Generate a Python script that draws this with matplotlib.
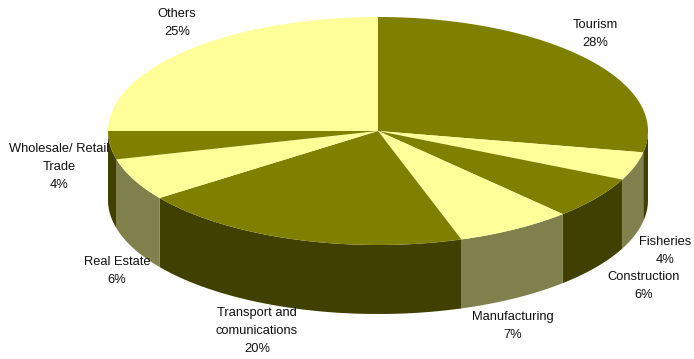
"""Tilted 3D-style pie of contribution to GDP by sector."""

import matplotlib

matplotlib.use("Agg")
import matplotlib.pyplot as plt
import numpy as np
from matplotlib.patches import Polygon

SECTORS = [
    "Tourism",
    "Fisheries",
    "Construction",
    "Manufacturing",
    "Transport and\ncomunications",
    "Real Estate",
    "Wholesale/ Retail\nTrade",
    "Others",
]
SHARES = [28, 4, 6, 7, 20, 6, 4, 25]

TOP_COLORS = ["#808000", "#FFFF99"]
SIDE_COLORS = ["#404000", "#80804D"]

WIDTH, HEIGHT = 694, 359
CENTER_X, CENTER_Y = 378, 131
RADIUS_X, RADIUS_Y = 270, 114
DEPTH = 69

LABEL_POS = [
    (595, 34),
    (665, 251),
    (644, 286),
    (513, 326),
    (257, 331),
    (117, 271),
    (59, 167),
    (177, 23),
]


def rim(theta):
    # theta is measured clockwise from twelve o'clock
    return CENTER_X + RADIUS_X * np.sin(theta), CENTER_Y - RADIUS_Y * np.cos(theta)


def main():
    figure = plt.figure(figsize=(WIDTH / 100, HEIGHT / 100), dpi=100)
    axis = figure.add_axes([0, 0, 1, 1])
    axis.set_xlim(0, WIDTH)
    axis.set_ylim(HEIGHT, 0)
    axis.axis("off")

    fractions = np.cumsum([0] + SHARES) / sum(SHARES)
    angles = fractions * 2 * np.pi

    # walls first, only the front half of the rim is visible
    for index in range(len(SHARES)):
        start = max(angles[index], np.pi / 2)
        stop = min(angles[index + 1], 3 * np.pi / 2)
        if stop <= start:
            continue
        theta = np.linspace(start, stop, 80)
        x, y = rim(theta)
        points = np.column_stack(
            [np.r_[x, x[::-1]], np.r_[y, y[::-1] + DEPTH]]
        )
        axis.add_patch(
            Polygon(points, closed=True, facecolor=SIDE_COLORS[index % 2], edgecolor="none")
        )

    for index in range(len(SHARES)):
        theta = np.linspace(angles[index], angles[index + 1], 120)
        x, y = rim(theta)
        points = np.column_stack([np.r_[CENTER_X, x], np.r_[CENTER_Y, y]])
        axis.add_patch(
            Polygon(points, closed=True, facecolor=TOP_COLORS[index % 2], edgecolor="none")
        )

    for sector, share, (x, y) in zip(SECTORS, SHARES, LABEL_POS):
        axis.text(
            x, y, f"{sector}\n{share}%",
            ha="center", va="center", fontsize=9.3,
            family="Liberation Sans", color="#111111", linespacing=1.65,
        )

    figure.savefig("out.png", dpi=100)
    plt.close(figure)


if __name__ == "__main__":
    main()
